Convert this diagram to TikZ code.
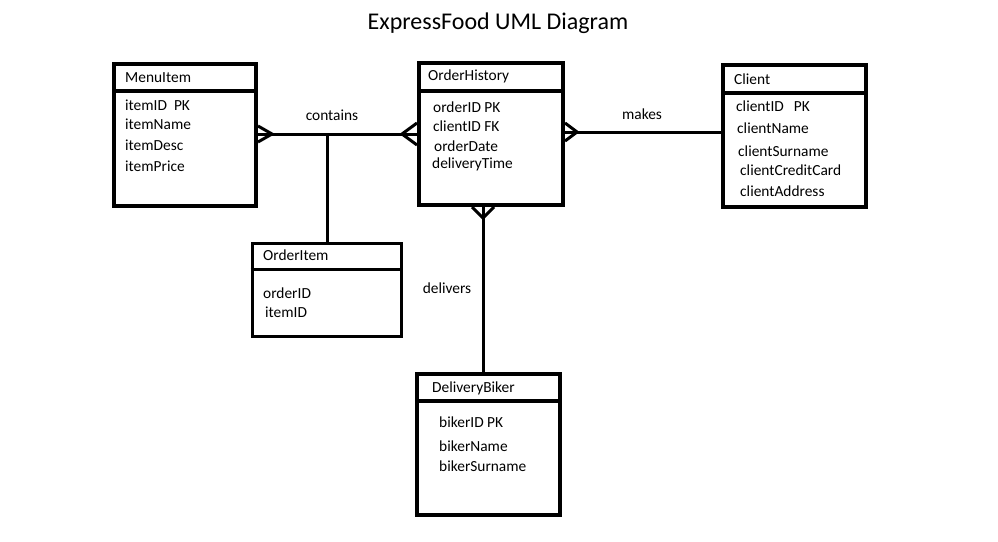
\documentclass[tikz,border=0pt]{standalone}
\usepackage{fontspec}
\setmainfont{Carlito}
\usetikzlibrary{positioning}

\begin{document}
\begin{tikzpicture}[x=1pt,y=-1pt,
                    entity/.style={draw, line width=4pt, inner sep=0pt},
                    field/.style={anchor=west, inner sep=0pt, font=\fontsize{15.4}{17}\selectfont},
                    label/.style={inner sep=0pt, font=\fontsize{15.4}{17}\selectfont},
                    link/.style={line width=3pt},
                    crow/.style={line width=3pt, line join=miter}]

  \useasboundingbox (0,0) rectangle (998,541);

  %Title%
  \node[inner sep=0pt, font=\fontsize{24}{28}\selectfont] (title) at (498,23) {ExpressFood UML Diagram};

  %Entities%
  \node[entity, minimum width=142, minimum height=142] (menu) at (185,135) {};
  \node[entity, minimum width=144, minimum height=142] (history) at (491,134) {};
  \node[entity, minimum width=143, minimum height=142] (client) at (794.5,136) {};
  \node[entity, line width=3pt, minimum width=149, minimum height=93] (orderitem) at (326.5,289.5) {};
  \node[entity, minimum width=143, minimum height=141] (biker) at (488.5,444.5) {};

  %Headers%
  \draw[line width=3.5pt] (menu.west |- 0,91) -- (menu.east |- 0,91);
  \draw[line width=3.5pt] (history.west |- 0,91) -- (history.east |- 0,91);
  \draw[line width=3.5pt] (client.west |- 0,93) -- (client.east |- 0,93);
  \draw[line width=3pt] (orderitem.west |- 0,269) -- (orderitem.east |- 0,269);
  \draw[line width=3.5pt] (biker.west |- 0,401) -- (biker.east |- 0,401);

  \node[field] (menuhead) at (125,78) {MenuItem};
  \node[field] (historyhead) at (428,76) {OrderHistory};
  \node[field] (clienthead) at (734,79) {Client};
  \node[field] (orderitemhead) at (263,255) {OrderItem};
  \node[field] (bikerhead) at (432,388) {DeliveryBiker};

  %Fields%
  \node[field] (itemid) at (125,105) {itemID\hspace{7pt}PK};
  \node[field] (itemname) at (125,124) {itemName};
  \node[field] (itemdesc) at (125,145) {itemDesc};
  \node[field] (itemprice) at (125,166) {itemPrice};

  \node[field] (hid) at (433,107) {orderID PK};
  \node[field] (hclient) at (433,126) {clientID FK};
  \node[field] (hdate) at (434,146) {orderDate};
  \node[field] (htime) at (432,164) {deliveryTime};

  \node[field] (cid) at (736,106) {clientID\hspace{10pt}PK};
  \node[field] (cname) at (737,128) {clientName};
  \node[field] (csurname) at (738,151) {clientSurname};
  \node[field] (ccard) at (740,170) {clientCreditCard};
  \node[field] (caddress) at (740,191) {clientAddress};

  \node[field] (oid) at (263,293) {orderID};
  \node[field] (oitem) at (265,312) {itemID};

  \node[field] (bid) at (439,422) {bikerID PK};
  \node[field] (bname) at (439,446) {bikerName};
  \node[field] (bsurname) at (439,466) {bikerSurname};

  %Relations%
  \coordinate (mc) at (menu.east |- 0,134);
  \coordinate (hc) at (history.west |- 0,134);
  \coordinate (junction) at (327,134);
  \coordinate (hm) at (history.east |- 0,132);
  \coordinate (cm) at (client.west |- 0,132);
  \coordinate (hd) at (history.south -| 483,0);
  \coordinate (bd) at (biker.north -| 483,0);

  \draw[link] (mc) -- (hc);
  \draw[link] (junction) -- (orderitem.north -| junction);
  \draw[link] (hm) -- (cm);
  \draw[link] (hd) -- (bd);

  %Crow feet%
  \draw[crow] ([yshift=8pt]mc) -- (272,134) -- ([yshift=-8pt]mc);
  \draw[crow] ([yshift=11pt]hc) -- (402,134) -- ([yshift=-11pt]hc);
  \draw[crow] ([yshift=9pt]hm) -- (577,132) -- ([yshift=-9pt]hm);
  \draw[crow] ([xshift=-11pt]hd) -- (483,218) -- ([xshift=11pt]hd);

  \node[label] (contains) at (332,115) {contains};
  \node[label] (makes) at (642,114) {makes};
  \node[label] (delivers) at (447,288) {delivers};
\end{tikzpicture}
\end{document}
